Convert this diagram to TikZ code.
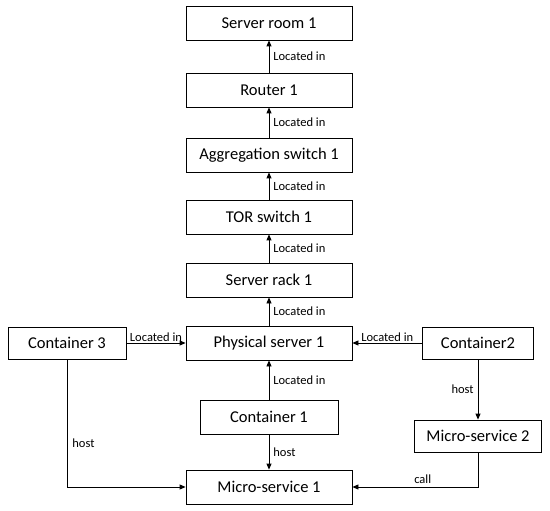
\documentclass[tikz,border=0pt]{standalone}
\usepackage{fontspec}
\setmainfont{Carlito}
\usetikzlibrary{arrows.meta}
\begin{document}
\begin{tikzpicture}[x=1pt,y=-1pt,entity/.style={draw,line width=0.8pt,fill=white,minimum width=166pt,minimum height=34pt,inner sep=0pt,font=\fontsize{16.5}{18}\selectfont},relation/.style={line width=0.8pt,-{Triangle[length=6pt,width=5pt]}},tag/.style={font=\fontsize{12.5}{14}\selectfont,inner sep=1pt}]
\useasboundingbox (0,0) rectangle (550,511);
\node[entity] (room) at (269,23) {Server room 1};
\node[entity] (router) at (269,90) {Router 1};
\node[entity] (agg) at (269,155) {Aggregation switch 1};
\node[entity] (tor) at (269,217) {TOR switch 1};
\node[entity] (rack) at (269,280) {Server rack 1};
\node[entity] (phys) at (269,343) {Physical server 1};
\node[entity,minimum width=118pt,minimum height=32pt] (cont3) at (67,343) {Container 3};
\node[entity,minimum width=111pt,minimum height=32pt] (cont2) at (478,343) {Container2};
\node[entity,minimum width=138pt] (cont1) at (269,417) {Container 1};
\node[entity,minimum width=127pt,minimum height=32pt] (ms2) at (478,436) {Micro-service 2};
\node[entity] (ms1) at (269,487) {Micro-service 1};
\draw[relation] (router) -- (room) node[tag,midway,right,xshift=3pt] {Located in};
\draw[relation] (agg) -- (router) node[tag,midway,right,xshift=3pt] {Located in};
\draw[relation] (tor) -- (agg) node[tag,midway,right,xshift=3pt] {Located in};
\draw[relation] (rack) -- (tor) node[tag,midway,right,xshift=3pt] {Located in};
\draw[relation] (phys) -- (rack) node[tag,midway,right,xshift=3pt] {Located in};
\draw[relation] (cont1) -- (phys) node[tag,midway,right,xshift=3pt] {Located in};
\draw[relation] (cont1) -- (ms1) node[tag,midway,right,xshift=3pt] {host};
\draw[relation] (cont3) -- (phys) node[tag,midway,above] {Located in};
\draw[relation] (cont2) -- (phys) node[tag,midway,above] {Located in};
\draw[relation] (cont2) -- (ms2) node[tag,midway,left,xshift=-3pt] {host};
\draw[relation] (cont3) |- (ms1) node[tag,pos=0.33,right,xshift=4pt] {host};
\draw[relation] (ms2) |- (ms1) node[tag,pos=0.72,above,yshift=2pt] {call};
\end{tikzpicture}
\end{document}
